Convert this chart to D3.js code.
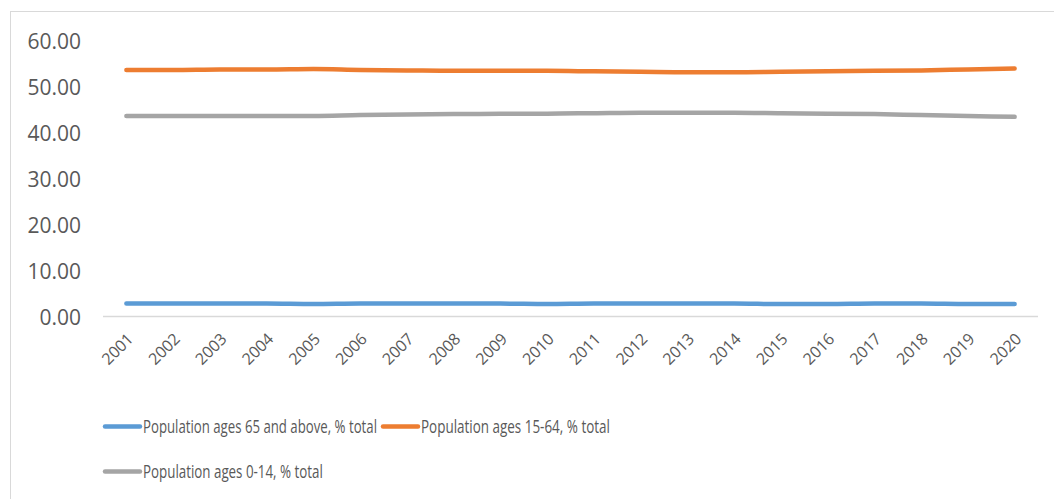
<!DOCTYPE html>
<html>
<head>
<meta charset="utf-8">
<script src="https://cdn.jsdelivr.net/npm/d3@7"></script>
<style>
  html, body { margin: 0; padding: 0; background: #fff; }
  svg { display: block; }
  text { font-family: "Open Sans", "Liberation Sans", sans-serif; fill: #595959; }
</style>
</head>
<body>
<svg id="chart" width="1054" height="499"></svg>
<script>
const years = ["2001","2002","2003","2004","2005","2006","2007","2008","2009","2010",
               "2011","2012","2013","2014","2015","2016","2017","2018","2019","2020"];
const ages65plus = [2.8,2.8,2.8,2.8,2.7,2.8,2.8,2.8,2.8,2.7,2.8,2.8,2.8,2.8,2.7,2.7,2.8,2.8,2.7,2.7];
const ages15to64 = [53.6,53.6,53.7,53.7,53.8,53.6,53.5,53.4,53.4,53.4,53.3,53.2,53.1,53.1,53.2,53.3,53.4,53.5,53.7,53.9];
const ages0to14  = [43.6,43.6,43.6,43.6,43.6,43.8,43.9,44.0,44.1,44.1,44.2,44.3,44.3,44.3,44.2,44.1,44.0,43.8,43.6,43.4];
const yTicks = [0,10,20,30,40,50,60];
const seriesNames = ["Population ages 65 and above, % total","Population ages 15-64, % total","Population ages 0-14, % total"];
const seriesColors = ["#5b9bd5","#ed7d31","#a5a5a5"];

const series = [ages65plus, ages15to64, ages0to14].map((v,i)=>({name:seriesNames[i], color:seriesColors[i], values:v}));

const svg = d3.select("#chart");

// outer frame (only left and top edges visible in the picture)
svg.append("rect").attr("x",10.5).attr("y",11.5).attr("width",1200).attr("height",700)
  .attr("fill","none").attr("stroke","#d9d9d9").attr("stroke-width",1);

const x = d3.scaleBand().domain(years).range([103,1038]).paddingInner(0).paddingOuter(0);
const y = d3.scaleLinear().domain([0,60]).range([316.5,40.5]);
const cx = d => x(d) + x.bandwidth()/2;

// y axis labels
const yAxis = d3.axisLeft(y).tickValues(yTicks).tickFormat(d3.format(".2f")).tickSize(0).tickPadding(0);
const gy = svg.append("g").attr("transform","translate(81,0)").call(yAxis);
gy.select(".domain").remove();
gy.selectAll("text").style("font-size","21px").attr("fill","#595959").attr("dy","0.36em")
  .style("font-family","'Open Sans', sans-serif");

// baseline
svg.append("line").attr("x1",103).attr("x2",1038).attr("y1",y(0)).attr("y2",y(0))
  .attr("stroke","#d9d9d9").attr("stroke-width",1.5);

// x labels
const xAxis = d3.axisBottom(x).tickSize(0).tickPadding(0);
const gx = svg.append("g").call(xAxis);
gx.select(".domain").remove();
gx.selectAll(".tick").attr("transform", d => `translate(${cx(d)+4},336)`);
gx.selectAll("text").attr("y",0).attr("dy","0.35em").attr("text-anchor","end")
  .attr("transform","rotate(-45)").style("font-size","16px").attr("fill","#595959")
  .style("font-family","'Open Sans', sans-serif");

// lines
const line = d3.line().x((d,i)=>cx(years[i])).y(d=>y(d)).curve(d3.curveMonotoneX);
svg.append("g").selectAll("path").data(series).join("path")
  .attr("d", d=>line(d.values)).attr("fill","none")
  .attr("stroke", d=>d.color).attr("stroke-width",4.5)
  .attr("stroke-linecap","round").attr("stroke-linejoin","round");

// legend
const legendItems = [
  {s:series[0], x:105, y:426.5, w:234},
  {s:series[1], x:383, y:426.5, w:189},
  {s:series[2], x:105, y:471.5, w:180}
];
const lg = svg.append("g").selectAll("g").data(legendItems).join("g")
  .attr("transform", d=>`translate(${d.x},${d.y})`);
lg.append("line").attr("x1",0).attr("x2",35).attr("y1",0).attr("y2",0)
  .attr("stroke", d=>d.s.color).attr("stroke-width",4.5).attr("stroke-linecap","round");
lg.append("text").attr("x",0).attr("y",0).attr("dy","0.35em")
  .style("font-size","19px").attr("fill","#595959")
  .text(d=>d.s.name)
  .each(function(d){
    const natural = this.getComputedTextLength();
    const k = natural > 0 ? d.w / natural : 1;
    d3.select(this).attr("transform", `translate(38,0) scale(${k},1)`);
  });
</script>
</body>
</html>
